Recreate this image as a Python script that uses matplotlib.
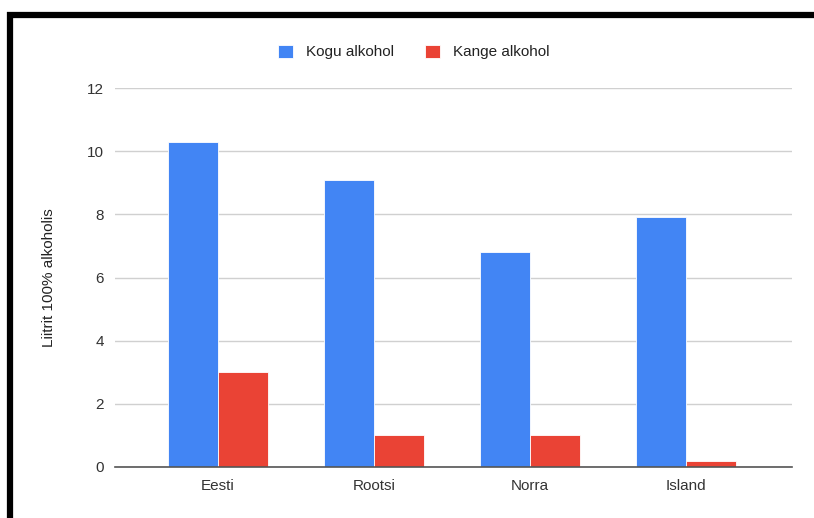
import matplotlib
matplotlib.use("Agg")
import matplotlib.pyplot as plt
import numpy as np

plt.rcParams['font.family'] = ['Liberation Sans', 'DejaVu Sans']

# data
countries = ["Eesti", "Rootsi", "Norra", "Island"]
kogu_alkohol = [10.3, 9.1, 6.8, 7.9]
kange_alkohol = [3.0, 1.0, 1.0, 0.2]
series_names = ["Kogu alkohol", "Kange alkohol"]
yticks = [0, 2, 4, 6, 8, 10, 12]

blue = '#4285F4'
red = '#EA4335'

fig = plt.figure(figsize=(8.14, 5.18), dpi=100)
ax = fig.add_axes([115 / 814, 1 - 467 / 518, 677 / 814, 379 / 518])

x = np.arange(len(countries))
w = 0.32
ax.bar(x - w / 2, kogu_alkohol, w, color=blue, edgecolor='white',
       linewidth=0.6, label=series_names[0], zorder=3)
ax.bar(x + w / 2, kange_alkohol, w, color=red, edgecolor='white',
       linewidth=0.6, label=series_names[1], zorder=3)

ax.set_ylim(0, 12)
ax.set_xlim(-0.66, 3.68)
ax.set_yticks(yticks)
ax.set_xticks(x, countries)
ax.yaxis.grid(True, color='#d0d0d0', linewidth=1, zorder=0)
ax.set_axisbelow(True)
for s in ['top', 'right', 'left']:
    ax.spines[s].set_visible(False)
ax.spines['bottom'].set_color('#555555')
ax.spines['bottom'].set_linewidth(1.2)
ax.spines['bottom'].set_zorder(4)
ax.tick_params(axis='both', length=0, labelsize=11, colors='#333333')
ax.tick_params(axis='y', pad=8)
ax.tick_params(axis='x', pad=9)
ax.set_ylabel("Liitrit 100% alkoholis", fontsize=11, color='#222222',
              labelpad=22)
for lbl in ax.get_yticklabels():
    lbl.set_clip_on(False)

leg = fig.legend(loc='center', bbox_to_anchor=(414 / 814, 1 - 52 / 518),
                 ncol=2, frameon=False, fontsize=11, handlelength=0.95,
                 handleheight=0.95, columnspacing=2.0, handletextpad=0.9)
for t in leg.get_texts():
    t.set_color('#222222')

# black frame on the top and left edges of the screenshot
fig.add_artist(plt.Line2D([7 / 814, 1.0], [1 - 15 / 518, 1 - 15 / 518],
                          color='black', linewidth=4.5,
                          transform=fig.transFigure, solid_capstyle='butt'))
fig.add_artist(plt.Line2D([10 / 814, 10 / 814], [0.0, 1 - 12 / 518],
                          color='black', linewidth=4.5,
                          transform=fig.transFigure, solid_capstyle='butt'))

fig.savefig("out.png", dpi=100)
